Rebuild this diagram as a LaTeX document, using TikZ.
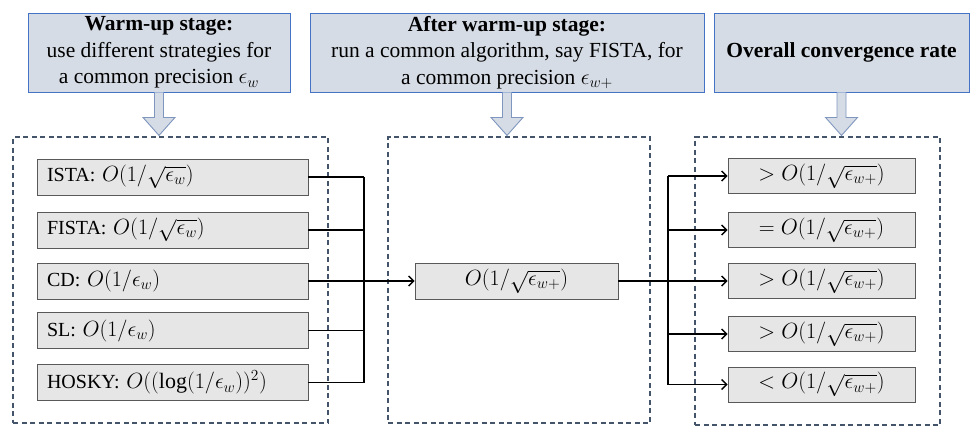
\documentclass[tikz,border=0pt]{standalone}
\usepackage{fix-cm}
\usepackage{fontspec}
\setmainfont{Liberation Serif}
\usetikzlibrary{arrows.meta,calc}
\definecolor{hdrfill}{HTML}{D6DCE5}
\definecolor{hdrdraw}{HTML}{4472C4}
\definecolor{arrdraw}{HTML}{7F96BE}
\definecolor{dashdraw}{HTML}{44546A}
\definecolor{boxfill}{HTML}{E7E6E6}
\definecolor{boxdraw}{HTML}{595959}
\newcommand{\mm}[1]{{\fontsize{22}{22}\selectfont$#1$}}
\begin{document}
\begin{tikzpicture}[x=1pt,y=-1pt,
  hdr/.style={draw=hdrdraw,fill=hdrfill,line width=0.9pt,align=center,inner sep=0pt,
    font=\fontsize{21.5}{26.5}\selectfont},
  stage/.style={draw=dashdraw,dashed,dash pattern=on 5pt off 3.5pt,line width=1.2pt,inner sep=0pt},
  lbox/.style={draw=boxdraw,fill=boxfill,line width=0.9pt,minimum width=271pt,minimum height=36pt,
    inner sep=0pt,text width=251pt,align=left,font=\fontsize{20}{22}\selectfont},
  rbox/.style={draw=boxdraw,fill=boxfill,line width=0.9pt,minimum width=187pt,minimum height=35pt,
    inner sep=0pt,align=center,font=\fontsize{20}{22}\selectfont},
  conn/.style={line width=1.4pt,black},
  arr/.style={conn,-{Straight Barb[length=5pt,width=10pt,line width=1.4pt]}},
  barrow/.style={draw=arrdraw,fill=hdrfill,line width=0.9pt,line join=miter}
]
\useasboundingbox (0,0) rectangle (977,437);

% headers
\node[hdr,minimum width=262pt,minimum height=79pt] (h1) at (159,52.5)
  {\textbf{Warm-up stage:}\\use different strategies for\\a common precision \mm{\epsilon_w}};
\node[hdr,minimum width=394pt,minimum height=79pt] (h2) at (507,52.5)
  {\textbf{After warm-up stage:}\\run a common algorithm, say FISTA, for\\a common precision \mm{\epsilon_{w+}}};
\node[hdr,minimum width=255pt,minimum height=79pt] (h3) at (841.5,52.5)
  {\textbf{Overall convergence rate}};

% stage boxes
\node[stage,minimum width=315pt,minimum height=286pt] (s1) at (170.5,280) {};
\node[stage,minimum width=262pt,minimum height=286pt] (s2) at (519,280) {};
\node[stage,minimum width=245pt,minimum height=288pt] (s3) at (817.5,281) {};

% block arrows
\foreach \h/\s in {h1/s1,h2/s2,h3/s3}{
  \draw[barrow] ($(\h.south)+(-4.5,0)$) -- ($(\h.south)+(-4.5,25)$) -- ($(\h.south)+(-16,25)$)
    -- ($(\h.south)+(0,43)$) -- ($(\h.south)+(16,25)$) -- ($(\h.south)+(4.5,25)$)
    -- ($(\h.south)+(4.5,0)$);
}

% left boxes
\node[lbox] (ista) at (172.5,177) {ISTA: \mm{O\big(1/\sqrt{\epsilon_w}\big)}};
\node[lbox] (fista) at (172.5,230) {FISTA: \mm{O\big(1/\sqrt{\epsilon_w}\big)}};
\node[lbox] (cd) at (172.5,281) {CD: \mm{O(1/\epsilon_w)}};
\node[lbox] (sl) at (172.5,330.5) {SL: \mm{O(1/\epsilon_w)}};
\node[lbox] (hosky) at (172.5,382.5) {HOSKY: \mm{O\big((\log(1/\epsilon_w))^2\big)}};

% middle box
\node[rbox,minimum width=203pt,minimum height=36pt] (mid) at (516.5,281) {\mm{O(1/\sqrt{\epsilon_{w+}})}};

% right boxes
\node[rbox] (r1) at (821.5,176) {\mm{>O(1/\sqrt{\epsilon_{w+}})}};
\node[rbox] (r2) at (821.5,230) {\mm{=O(1/\sqrt{\epsilon_{w+}})}};
\node[rbox] (r3) at (821.5,281) {\mm{>O(1/\sqrt{\epsilon_{w+}})}};
\node[rbox] (r4) at (821.5,334) {\mm{>O(1/\sqrt{\epsilon_{w+}})}};
\node[rbox] (r5) at (821.5,384.5) {\mm{<O(1/\sqrt{\epsilon_{w+}})}};

% junctions
\coordinate (jl) at (364,0);
\coordinate (jr) at (668,0);

\foreach \n in {ista,fista,sl,hosky}{
  \draw[conn] (\n.east) -- (\n.east -| jl);
}
\draw[conn] (ista.east -| jl) -- (hosky.east -| jl);
\draw[arr] (cd.east) -- (mid.west);

\draw[conn] (mid.east) -- (mid.east -| jr);
\draw[conn] (r1.west -| jr) -- (r5.west -| jr);
\foreach \n in {r1,r2,r3,r4,r5}{
  \draw[arr] (\n.west -| jr) -- (\n.west);
}
\end{tikzpicture}
\end{document}
